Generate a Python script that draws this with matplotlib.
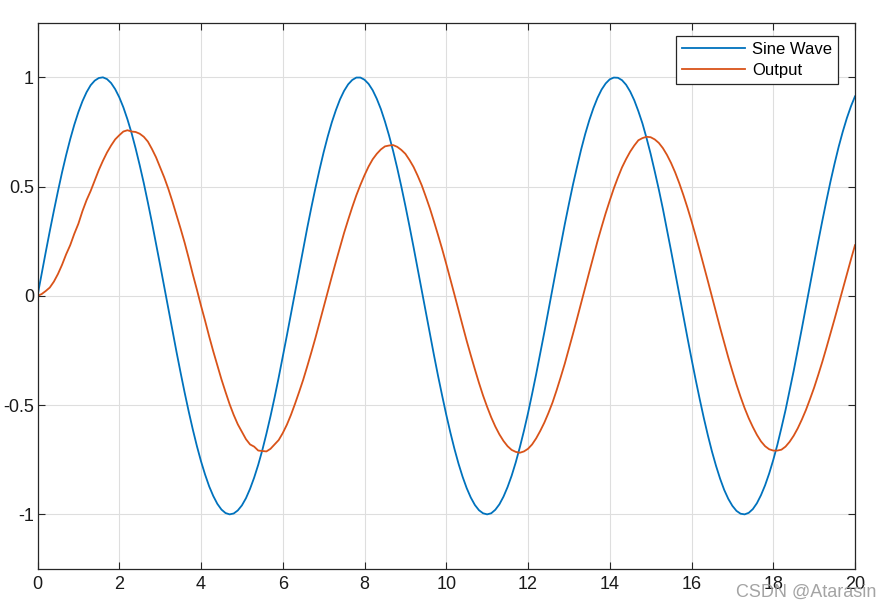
import numpy as np
import matplotlib
matplotlib.use("Agg")
import matplotlib.pyplot as plt

# time grid (step 0.1 s)
t = np.round(np.arange(0, 20.0001, 0.1), 1)

sine_wave = [
    0.000, 0.100, 0.199, 0.296, 0.389, 0.479, 0.565, 0.644, 0.717, 0.783,
    0.841, 0.891, 0.932, 0.964, 0.985, 0.997, 1.000, 0.992, 0.974, 0.946,
    0.909, 0.863, 0.808, 0.746, 0.675, 0.598, 0.516, 0.427, 0.335, 0.239,
    0.141, 0.042, -0.058, -0.158, -0.256, -0.351, -0.443, -0.530, -0.612, -0.688,
    -0.757, -0.818, -0.872, -0.916, -0.952, -0.978, -0.994, -1.000, -0.996, -0.982,
    -0.959, -0.926, -0.883, -0.832, -0.773, -0.706, -0.631, -0.551, -0.465, -0.374,
    -0.279, -0.182, -0.083, 0.017, 0.117, 0.215, 0.312, 0.405, 0.494, 0.578,
    0.657, 0.729, 0.794, 0.850, 0.899, 0.938, 0.968, 0.988, 0.999, 0.999,
    0.989, 0.970, 0.941, 0.902, 0.855, 0.798, 0.734, 0.663, 0.585, 0.501,
    0.412, 0.319, 0.223, 0.124, 0.025, -0.075, -0.174, -0.272, -0.367, -0.457,
    -0.544, -0.625, -0.700, -0.768, -0.828, -0.880, -0.923, -0.957, -0.981, -0.995,
    -1.000, -0.995, -0.979, -0.954, -0.919, -0.875, -0.823, -0.762, -0.693, -0.618,
    -0.537, -0.449, -0.358, -0.263, -0.166, -0.066, 0.033, 0.133, 0.231, 0.328,
    0.420, 0.509, 0.591, 0.670, 0.741, 0.804, 0.859, 0.906, 0.944, 0.972,
    0.991, 0.999, 0.998, 0.987, 0.966, 0.935, 0.895, 0.845, 0.789, 0.722,
    0.650, 0.570, 0.487, 0.398, 0.303, 0.206, 0.108, 0.008, -0.092, -0.191,
    -0.288, -0.382, -0.472, -0.558, -0.638, -0.712, -0.778, -0.837, -0.888, -0.929,
    -0.961, -0.984, -0.997, -1.000, -0.993, -0.976, -0.949, -0.912, -0.867, -0.813,
    -0.751, -0.682, -0.604, -0.523, -0.434, -0.343, -0.246, -0.149, -0.049, 0.050,
    0.150, 0.248, 0.343, 0.435, 0.523, 0.605, 0.682, 0.751, 0.813, 0.867,
    0.913,
]

output = [
    0.000, 0.008, 0.022, 0.038, 0.065, 0.100, 0.142, 0.190, 0.232, 0.284,
    0.330, 0.388, 0.438, 0.480, 0.528, 0.576, 0.618, 0.656, 0.688, 0.716,
    0.735, 0.752, 0.758, 0.752, 0.750, 0.742, 0.728, 0.706, 0.672, 0.634,
    0.588, 0.542, 0.490, 0.432, 0.370, 0.308, 0.243, 0.172, 0.098, 0.028,
    -0.045, -0.114, -0.186, -0.254, -0.318, -0.382, -0.440, -0.496, -0.545, -0.588,
    -0.622, -0.656, -0.680, -0.690, -0.708, -0.710, -0.712, -0.700, -0.680, -0.660,
    -0.628, -0.590, -0.545, -0.494, -0.440, -0.384, -0.322, -0.258, -0.192, -0.122,
    -0.052, 0.018, 0.088, 0.156, 0.222, 0.288, 0.348, 0.406, 0.460, 0.508,
    0.552, 0.592, 0.625, 0.650, 0.670, 0.684, 0.688, 0.690, 0.682, 0.668,
    0.650, 0.622, 0.590, 0.550, 0.506, 0.454, 0.400, 0.340, 0.278, 0.214,
    0.146, 0.076, 0.006, -0.066, -0.136, -0.206, -0.272, -0.336, -0.398, -0.456,
    -0.508, -0.556, -0.598, -0.634, -0.664, -0.688, -0.705, -0.714, -0.718, -0.712,
    -0.700, -0.680, -0.652, -0.618, -0.580, -0.536, -0.488, -0.432, -0.372, -0.310,
    -0.242, -0.174, -0.104, -0.032, 0.040, 0.110, 0.180, 0.250, 0.315, 0.378,
    0.436, 0.492, 0.542, 0.588, 0.626, 0.660, 0.688, 0.712, 0.722, 0.728,
    0.726, 0.716, 0.700, 0.676, 0.645, 0.608, 0.565, 0.516, 0.462, 0.404,
    0.342, 0.276, 0.208, 0.138, 0.068, -0.004, -0.075, -0.146, -0.214, -0.282,
    -0.345, -0.406, -0.462, -0.514, -0.560, -0.600, -0.636, -0.666, -0.688, -0.702,
    -0.708, -0.708, -0.704, -0.690, -0.668, -0.640, -0.606, -0.566, -0.522, -0.472,
    -0.420, -0.362, -0.302, -0.238, -0.172, -0.106, -0.038, 0.030, 0.098, 0.166,
    0.232,
]

series_labels = ["Sine Wave", "Output"]
x_ticks = [0, 2, 4, 6, 8, 10, 12, 14, 16, 18, 20]
y_ticks = [-1, -0.5, 0, 0.5, 1]
y_tick_labels = ["-1", "-0.5", "0", "0.5", "1"]

plt.rcParams['font.family'] = ['Liberation Sans', 'DejaVu Sans']
plt.rcParams['axes.unicode_minus'] = False

fig = plt.figure(figsize=(8.91, 6.09), dpi=100)
ax = fig.add_axes([0.0421, 0.0657, 0.9175, 0.897])

ax.plot(t, sine_wave, color='#0072BD', lw=1.3, label=series_labels[0])
ax.plot(t, output, color='#D95319', lw=1.3, label=series_labels[1])

ax.set_xlim(0, 20)
ax.set_ylim(-1.25, 1.25)
ax.set_xticks(x_ticks)
ax.set_xticklabels([str(v) for v in x_ticks])
ax.set_yticks(y_ticks)
ax.set_yticklabels(y_tick_labels)

ax.grid(True, color='#dedede', lw=0.8)
ax.set_axisbelow(True)
ax.tick_params(direction='in', length=5, width=0.8, color='#262626',
               labelsize=13, labelcolor='#1a1a1a', top=True, right=True)
ax.tick_params(axis='y', pad=2.5)
ax.tick_params(axis='x', pad=5)
for s in ax.spines.values():
    s.set_color('#262626')
    s.set_linewidth(0.9)

leg = ax.legend(loc='upper right', bbox_to_anchor=(0.979, 0.9757), fontsize=12,
                frameon=True, fancybox=False, edgecolor='#262626', framealpha=1,
                handlelength=3.8, handletextpad=0.4, borderpad=0.35,
                labelspacing=0.38, borderaxespad=0)
leg.get_frame().set_linewidth(0.9)

fig.text(0.9832, 1 - 592 / 609, "CSDN @Atarasin", ha='right', va='center',
         fontsize=13, color='#9a9a9a', alpha=0.9)

fig.savefig('out.png', dpi=100)
